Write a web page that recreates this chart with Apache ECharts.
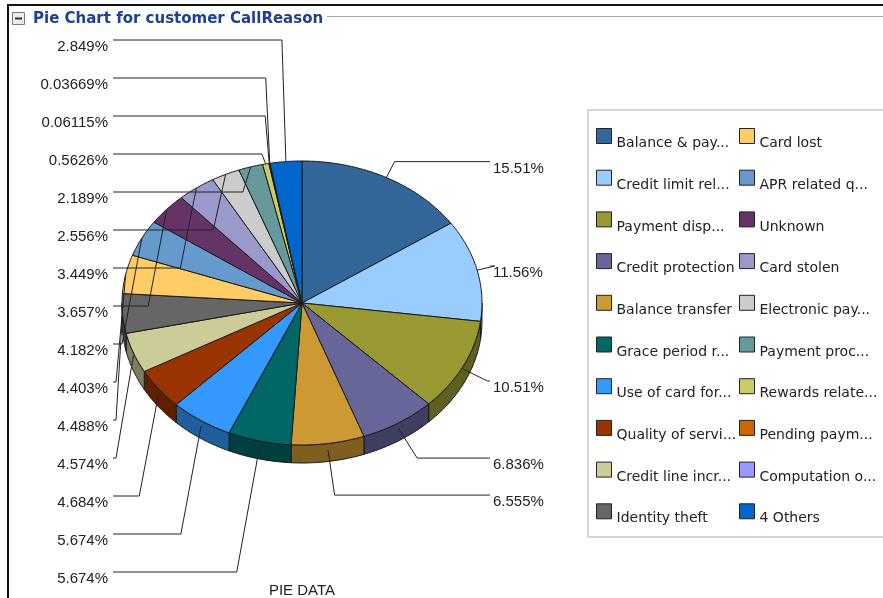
<!DOCTYPE html>
<html>
<head>
<meta charset="utf-8">
<script src="https://cdn.jsdelivr.net/npm/echarts@6/dist/echarts.min.js"></script>
<style>
  html, body { margin: 0; padding: 0; background: #ffffff; }
  #chart { width: 883px; height: 598px; }
</style>
</head>
<body>
<div id="chart"></div>
<script>
// Call reasons, clockwise from 12 o'clock
const categories = [
  'Balance & pay...', 'Credit limit rel...', 'Payment disp...', 'Credit protection',
  'Balance transfer', 'Grace period r...', 'Use of card for...', 'Quality of servi...',
  'Credit line incr...', 'Identity theft', 'Card lost', 'APR related q...',
  'Unknown', 'Card stolen', 'Electronic pay...', 'Payment proc...',
  'Rewards relate...', 'Pending paym...', 'Computation o...', '4 Others'
];
// Share of calls, percent
const shares = [
  15.51, 11.56, 10.51, 6.836, 6.555, 5.674, 5.674, 4.684, 4.574, 4.488,
  4.403, 4.182, 3.657, 3.449, 2.556, 2.189, 0.5626, 0.06115, 0.03669, 2.849
];
const colors = [
  '#336699', '#99ccff', '#999933', '#666699', '#cc9933', '#006666', '#3399ff', '#993300',
  '#cccc99', '#666666', '#ffcc66', '#6699cc', '#663366', '#9999cc', '#cccccc', '#669999',
  '#cccc66', '#cc6600', '#9999ff', '#0066cc'
];

// Tilted pie geometry
const CX = 302, CY = 303, RX = 180, RY = 142, DEPTH = 18;
const LEFT_TEXT_X = 108, LEFT_LINE_X = 113, LEFT_TOP = 40, LEFT_STEP = 38;
const RIGHT_LINE_X = 490, RIGHT_TEXT_X = 493, RIGHT_MIN_GAP = 37;
const STUB = 18, STUB_FRONT_EXTRA = 20;
const LABEL_FONT = '15px "Liberation Sans", Arial, sans-serif';

function pt(theta, dy) {
  return [CX + RX * Math.sin(theta), CY - RY * Math.cos(theta) + (dy || 0)];
}
function arc(a0, a1, dy) {
  const n = Math.max(1, Math.ceil((a1 - a0) / (Math.PI / 180)));
  const out = [];
  for (let k = 0; k <= n; k++) out.push(pt(a0 + (a1 - a0) * k / n, dy));
  return out;
}
function shade(hex, f) {
  const n = parseInt(hex.slice(1), 16);
  const r = Math.round(((n >> 16) & 255) * f), g = Math.round(((n >> 8) & 255) * f), b = Math.round((n & 255) * f);
  return 'rgb(' + r + ',' + g + ',' + b + ')';
}

function layoutPie(values) {
  const total = values.reduce((a, b) => a + b, 0);
  const geo = [];
  let cum = 0;
  values.forEach((v) => {
    const a0 = cum / total * Math.PI * 2;
    cum += v;
    const a1 = cum / total * Math.PI * 2;
    const mid = (a0 + a1) / 2;
    const top = [[CX, CY]].concat(arc(a0, a1, 0));
    let wall = null;
    const w0 = Math.max(a0, Math.PI / 2), w1 = Math.min(a1, Math.PI * 1.5);
    if (w1 > w0) {
      wall = arc(w0, w1, 0).concat(arc(w0, w1, DEPTH).reverse());
    }
    const frontness = Math.max(0, -Math.cos(mid));
    const anchor = pt(mid, DEPTH * 0.38 * frontness);
    geo.push({ a0, a1, mid, top, wall, anchor, frontness, right: Math.sin(mid) > 0, label: v + '%' });
  });
  // right-hand labels: radial stub, then horizontal, pushed down to avoid overlap
  let prevY = -Infinity;
  geo.filter(g => g.right).sort((p, q) => p.mid - q.mid).forEach(g => {
    const dx = Math.sin(g.mid), dy = -Math.cos(g.mid);
    const len = STUB + STUB_FRONT_EXTRA * g.frontness;
    let ex = g.anchor[0] + len * dx, ey = g.anchor[1] + len * dy;
    if (ey < prevY + RIGHT_MIN_GAP) {
      const ny = prevY + RIGHT_MIN_GAP;
      if (dy > 0.05) ex = g.anchor[0] + (ny - g.anchor[1]) / dy * dx;
      ey = ny;
    }
    prevY = ey;
    g.leader = [g.anchor, [ex, ey], [RIGHT_LINE_X, ey]];
    g.textPos = [RIGHT_TEXT_X, ey + 7];
    g.align = 'left';
  });
  // left-hand labels: evenly spaced column
  geo.filter(g => !g.right).sort((p, q) => q.mid - p.mid).forEach((g, k) => {
    const y = LEFT_TOP + LEFT_STEP * k;
    const ex = Math.max(LEFT_LINE_X + 3, g.anchor[0] - 4 - 0.15 * Math.max(0, y - g.anchor[1]));
    g.leader = [[LEFT_LINE_X, y], [ex, y], g.anchor];
    g.textPos = [LEFT_TEXT_X, y + 7];
    g.align = 'right';
  });
  return geo;
}

const geometry = layoutPie(shares);

function sliceRenderer(i) {
  return function () {
    const g = geometry[i];
    const fill = colors[i];
    const children = [];
    if (g.wall) {
      children.push({
        type: 'polygon', z2: 1, shape: { points: g.wall },
        style: { fill: shade(fill, 0.62), stroke: '#1a1a1a', lineWidth: 1 }
      });
    }
    children.push({
      type: 'polygon', z2: 2, shape: { points: g.top },
      style: { fill: fill, stroke: '#1a1a1a', lineWidth: 1 }
    });
    children.push({
      type: 'polyline', z2: 20, shape: { points: g.leader },
      style: { fill: null, stroke: '#222222', lineWidth: 1 }
    });
    children.push({
      type: 'text', z2: 21, x: g.textPos[0], y: g.textPos[1],
      style: { text: g.label, fill: '#222222', font: LABEL_FONT, align: g.align, verticalAlign: 'middle' }
    });
    return { type: 'group', children: children };
  };
}

const series = categories.map((name, i) => ({
  type: 'custom',
  name: name,
  coordinateSystem: 'none',
  silent: true,
  itemStyle: { color: colors[i] },
  data: [[shares[i]]],
  renderItem: sliceRenderer(i)
}));

const legendBase = {
  orient: 'vertical',
  icon: 'rect',
  itemWidth: 15,
  itemHeight: 15,
  itemGap: 19.2,
  padding: 0,
  selectedMode: false,
  itemStyle: { borderColor: '#222222', borderWidth: 1 },
  formatter: name => '{t|' + name + '}',
  textStyle: {
    rich: { t: { fontFamily: 'DejaVu Sans', fontSize: 14, color: '#222222', padding: [15, 0, 0, 0] } }
  }
};

const chart = echarts.init(document.getElementById('chart'), null, { renderer: 'canvas' });
chart.setOption({
  animation: false,
  backgroundColor: '#ffffff',
  color: colors,
  title: {
    text: 'Pie Chart for customer CallReason',
    left: 33, top: 12, padding: 0,
    textStyle: { fontFamily: 'DejaVu Sans', fontWeight: 'bold', fontSize: 15, color: '#1f3f96' }
  },
  legend: [
    Object.assign({}, legendBase, { left: 596, top: 128, data: categories.slice(0, 10) }),
    Object.assign({}, legendBase, { left: 739, top: 128, data: categories.slice(10) })
  ],
  graphic: [
    { type: 'line', shape: { x1: 7, y1: 5, x2: 883, y2: 5 }, style: { stroke: '#111', lineWidth: 2 } },
    { type: 'line', shape: { x1: 8, y1: 5, x2: 8, y2: 598 }, style: { stroke: '#111', lineWidth: 2 } },
    { type: 'line', shape: { x1: 327, y1: 16.5, x2: 883, y2: 16.5 }, style: { stroke: '#a8a8a8', lineWidth: 1 } },
    { type: 'rect', shape: { x: 12.5, y: 12.5, width: 12, height: 12 },
      style: { fill: '#ececec', stroke: '#7a7a7a', lineWidth: 1 } },
    { type: 'line', shape: { x1: 15, y1: 18.5, x2: 22, y2: 18.5 }, style: { stroke: '#333', lineWidth: 2 } },
    { type: 'rect', shape: { x: 588, y: 110, width: 310, height: 427 },
      style: { fill: null, stroke: '#d6d6d6', lineWidth: 2 } },
    { type: 'text', x: 302, y: 591,
      style: { text: 'PIE DATA', fill: '#222222', font: LABEL_FONT, align: 'center', verticalAlign: 'middle' } }
  ],
  series: series
});
</script>
</body>
</html>
